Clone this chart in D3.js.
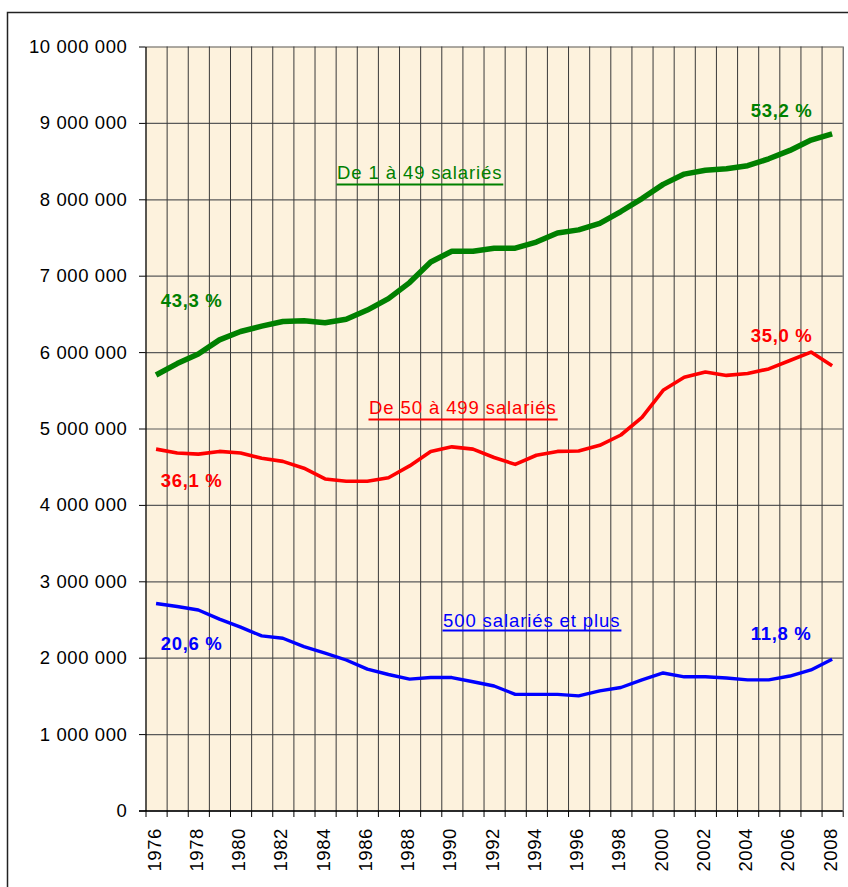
<!DOCTYPE html>
<html>
<head>
<meta charset="utf-8">
<script src="https://cdn.jsdelivr.net/npm/d3@7"></script>
<style>
  body { margin: 0; background: #fff; }
  text { font-family: "Liberation Sans", Arial, sans-serif; }
</style>
</head>
<body>
<div id="canvas"></div>
<script>
// salariés par taille d'établissement, 1976-2008
const years = d3.range(1976, 2009);

const small = [5700000, 5850000, 5975000, 6160000, 6270000, 6340000, 6400000, 6410000, 6385000, 6430000,
    6550000, 6700000, 6910000, 7180000, 7320000, 7320000, 7360000, 7360000, 7440000, 7560000,
    7600000, 7685000, 7840000, 8010000, 8195000, 8330000, 8380000, 8400000, 8440000, 8530000,
    8640000, 8775000, 8855000];

const medium = [4730000, 4680000, 4665000, 4700000, 4680000, 4610000, 4570000, 4480000, 4340000, 4310000,
    4310000, 4355000, 4510000, 4700000, 4760000, 4730000, 4620000, 4530000, 4650000, 4700000,
    4705000, 4780000, 4915000, 5145000, 5500000, 5670000, 5740000, 5695000, 5720000, 5780000,
    5890000, 6000000, 5820000];

const large = [2710000, 2670000, 2625000, 2505000, 2400000, 2285000, 2255000, 2145000, 2060000, 1970000,
    1850000, 1780000, 1720000, 1740000, 1740000, 1685000, 1630000, 1520000, 1520000, 1520000,
    1500000, 1565000, 1610000, 1710000, 1800000, 1750000, 1750000, 1735000, 1710000, 1710000,
    1760000, 1840000, 1980000];

const yTicks = d3.range(0, 10000001, 1000000);

const seriesNames = ["De 1 à 49 salariés", "De 50 à 499 salariés", "500 salariés et plus"];
const startShares = ["43,3 %", "36,1 %", "20,6 %"];
const endShares = ["53,2 %", "35,0 %", "11,8 %"];

const W = 848, H = 887;
const plot = {left: 145.5, right: 842.7, top: 46.5, bottom: 810.5};

const svg = d3.select("#canvas")
    .append("svg")
    .attr("width", W)
    .attr("height", H);

// outer frame
svg.append("rect")
    .attr("x", 7.5).attr("y", 12.5)
    .attr("width", W).attr("height", H)
    .style("fill", "#fff")
    .style("stroke", "#222")
    .style("stroke-width", 1.5);

// plot background
svg.append("rect")
    .attr("x", plot.left).attr("y", plot.top)
    .attr("width", plot.right - plot.left)
    .attr("height", plot.bottom - plot.top)
    .style("fill", "#fdf2dd");

const x = d3.scaleBand()
    .domain(years.map(String))
    .range([plot.left, plot.right]);
// edges of the categories, for the grid and the ticks
const xEdge = d3.scaleLinear()
    .domain([1976, 2009])
    .range([plot.left, plot.right]);

const y = d3.scaleLinear()
    .domain([0, 10000000])
    .range([plot.bottom, plot.top]);

const fmt = d3.formatLocale({decimal: ",", thousands: " ", grouping: [3], currency: ["", ""]}).format(",d");

// horizontal grid
svg.append("g")
    .attr("transform", "translate(" + plot.left + ",0)")
    .call(d3.axisLeft(y).tickValues(yTicks).tickSize(-(plot.right - plot.left)).tickFormat(""))
    .call(g => g.select(".domain").remove())
    .call(g => g.selectAll("line").style("stroke", "#5a5a5a").style("stroke-width", 1.2));

// vertical grid
svg.append("g")
    .attr("transform", "translate(0," + plot.bottom + ")")
    .call(d3.axisBottom(xEdge).tickValues(d3.range(1977, 2010)).tickSize(-(plot.bottom - plot.top)).tickFormat(""))
    .call(g => g.select(".domain").remove())
    .call(g => g.selectAll("line").style("stroke", "#3a3a3a").style("stroke-width", 1));

// y axis
svg.append("g")
    .attr("transform", "translate(" + plot.left + ",0)")
    .call(d3.axisLeft(y).tickValues(yTicks).tickSize(6.5).tickSizeOuter(0).tickPadding(12).tickFormat(fmt))
    .call(g => g.select(".domain").style("stroke", "#000").style("stroke-width", 1.3))
    .call(g => g.selectAll("line").style("stroke", "#000"))
    .call(g => g.selectAll("text")
        .style("font-size", "18.5px")
        .style("letter-spacing", "0.6px")
        .style("fill", "#000")
        .attr("x", -18));

// x axis: ticks on category edges
svg.append("g")
    .attr("transform", "translate(0," + plot.bottom + ")")
    .call(d3.axisBottom(xEdge).tickValues(d3.range(1976, 2010)).tickSize(6.5).tickSizeOuter(0).tickFormat(""))
    .call(g => g.select(".domain").attr("d", "M" + (plot.left - 6.5) + ",0.5H" + plot.right))
    .call(g => g.select(".domain").style("stroke", "#000").style("stroke-width", 1.3))
    .call(g => g.selectAll("line").style("stroke", "#000"));

// x labels every 2 years, rotated
svg.append("g")
    .selectAll("text")
    .data(years.filter(d => d % 2 === 0))
    .enter()
    .append("text")
    .attr("transform", d => "translate(" + (x(String(d)) + x.bandwidth() / 2 - 2) + "," + 828 + ") rotate(-90)")
    .attr("text-anchor", "end")
    .attr("dy", "0.35em")
    .style("font-size", "18.5px")
    .style("letter-spacing", "0.6px")
    .text(d => d);

const line = d3.line()
    .x((d, i) => x(String(years[i])) + x.bandwidth() / 2)
    .y(d => y(d));

const series = [
    {values: small, color: "#008000", width: 5.5},
    {values: medium, color: "#ff0000", width: 3.6},
    {values: large, color: "#0000ff", width: 3.4}
];

svg.selectAll(".serie")
    .data(series)
    .enter()
    .append("path")
    .attr("class", "serie")
    .attr("d", d => line(d.values))
    .style("fill", "none")
    .style("stroke", d => d.color)
    .style("stroke-width", d => d.width)
    .style("stroke-linejoin", "round")
    .style("stroke-linecap", "butt");

// series names, underlined
const namePos = [
    {x: 337, y: 179.3, u: 184.5},
    {x: 369, y: 414.3, u: 419.5},
    {x: 443, y: 626.7, u: 630.5}
];
seriesNames.forEach(function(name, i) {
    const t = svg.append("text")
        .attr("x", namePos[i].x)
        .attr("y", namePos[i].y)
        .style("font-size", "18.5px")
        .style("letter-spacing", "0.9px")
        .style("fill", series[i].color)
        .text(name);
    const len = t.node().getComputedTextLength();
    svg.append("line")
        .attr("x1", namePos[i].x - 0.5)
        .attr("x2", namePos[i].x + len + 1)
        .attr("y1", namePos[i].u)
        .attr("y2", namePos[i].u)
        .style("stroke", series[i].color)
        .style("stroke-width", 2.2);
});

// shares at start and end
const startY = [307.3, 487, 650];
const endY = [116.7, 341.7, 640];
series.forEach(function(s, i) {
    svg.append("text")
        .attr("x", 160.7).attr("y", startY[i])
        .style("font-size", "18.5px")
        .style("font-weight", "bold")
        .style("letter-spacing", "0.7px")
        .style("fill", s.color)
        .text(startShares[i]);
    svg.append("text")
        .attr("x", 750.7).attr("y", endY[i])
        .style("font-size", "18.5px")
        .style("font-weight", "bold")
        .style("letter-spacing", "0.7px")
        .style("fill", s.color)
        .text(endShares[i]);
});
</script>
</body>
</html>
